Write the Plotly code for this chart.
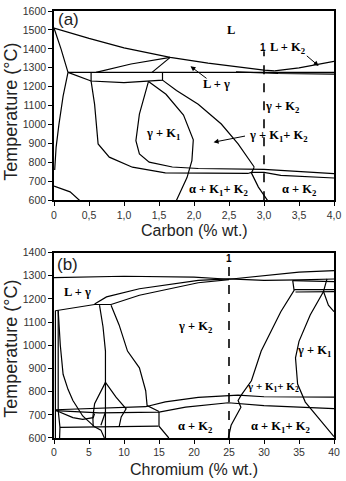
import plotly.graph_objects as go

# ---------------- Panel (a): Fe-C-Cr section, carbon axis ----------------
a_xtick_vals = [0, 0.5, 1.0, 1.5, 2.0, 2.5, 3.0, 3.5, 4.0]
a_xtick_text = ["0", "0,5", "1,0", "1,5", "2,0", "2,5", "3,0", "3,5", "4,0"]

a_liquidus_c = [0.0, 0.5, 1.0, 1.66, 2.2, 2.7, 3.0, 3.15]
a_liquidus_t = [1510, 1455, 1405, 1355, 1325, 1300, 1288, 1284]
a_lk2_c = [3.15, 3.5, 4.0]
a_lk2_t = [1284, 1300, 1334]
a_eut_c = [0.2, 4.0]
a_eut_t = [1276, 1276]
a_eut2_c = [2.6, 3.2, 4.0]
a_eut2_t = [1279, 1270, 1267]
a_sol_left_c = [0.0, 0.1, 0.2]
a_sol_left_t = [1510, 1400, 1276]
a_gam_left_c = [0.2, 0.13, 0.07, 0.03, 0.01]
a_gam_left_t = [1276, 1150, 1000, 880, 760]
a_diag_c = [0.2, 0.53]
a_diag_t = [1276, 1230]
a_lg_up_c = [0.6, 1.1, 1.66]
a_lg_up_t = [1276, 1320, 1355]
a_lg_low_c = [1.4, 1.66]
a_lg_low_t = [1276, 1355]
a_oval_c = [0.53, 0.53, 1.0, 1.55, 1.55]
a_oval_t = [1276, 1230, 1222, 1235, 1276]
a_lower_c = [0.53, 0.58, 0.63, 0.79, 1.12, 1.59, 2.77, 2.82, 3.0, 3.24, 4.0]
a_lower_t = [1230, 1107, 898, 828, 775, 745, 742, 748, 748, 732, 718]
a_upper_c = [1.35, 1.22, 1.17, 1.22, 1.36, 1.69, 2.06, 2.86, 3.0, 4.0]
a_upper_t = [1228, 1055, 915, 845, 802, 776, 768, 767, 763, 741]
a_gk1_right_c = [1.35, 1.6, 1.85, 1.99, 1.97, 1.9, 1.75]
a_gk1_right_t = [1228, 1160, 1050, 920, 810, 720, 600]
a_k1k2_c = [1.55, 1.75, 2.06, 2.39, 2.63, 2.86]
a_k1k2_t = [1235, 1180, 1107, 1003, 898, 776]
a_k2_c = [2.86, 2.82, 2.92, 3.05]
a_k2_t = [775, 745, 670, 600]
a_bl_c = [0.0, 0.23, 0.37]
a_bl_t = [675, 645, 598]
a_dash_c = [3.0, 3.0]
a_dash_t = [600, 1387]

# ---------------- Panel (b): chromium axis ----------------
b_xtick_vals = [0, 5, 10, 15, 20, 25, 30, 35, 40]

b_liq1_cr = [0, 10, 20, 25]
b_liq1_t = [1292, 1298, 1294, 1285]
b_liq2_cr = [25, 30, 35, 40]
b_liq2_t = [1285, 1302, 1316, 1322]
b_sol2_cr = [25, 30, 35, 40]
b_sol2_t = [1287, 1280, 1282, 1286]
b_sol3_cr = [34.1, 37, 40]
b_sol3_t = [1279, 1276, 1275]
b_lg_base_cr = [0.2, 5.8, 8.15]
b_lg_base_t = [1149, 1176, 1176]
b_lg_up_cr = [5.8, 7.5, 12.2, 20.6, 25]
b_lg_up_t = [1178, 1209, 1244, 1280, 1287]
b_lg_low_cr = [8.15, 12.2, 20.6, 25]
b_lg_low_t = [1176, 1216, 1270, 1283]
b_v1_cr = [0.2, 0.2]
b_v1_t = [1150, 600]
b_v2_cr = [0.6, 0.6, 0.85, 0.8]
b_v2_t = [1150, 720, 646, 600]
b_curve_cr = [0.6, 0.9, 1.3, 2.0, 2.7, 4.1, 5.8, 6.7, 7.2]
b_curve_t = [1150, 1000, 875, 810, 762, 695, 648, 634, 600]
b_v7_cr = [6.5, 7.0, 7.35, 7.35]
b_v7_t = [1173, 1080, 975, 600]
b_k1line_cr = [8.15, 9.3, 10.5, 12.2, 13.1, 13.3, 15.0]
b_k1line_t = [1173, 1088, 975, 903, 804, 740, 714]
b_dl_cr = [7.35, 6.5, 5.8, 5.55, 5.6]
b_dl_t = [840, 790, 748, 691, 650]
b_dr_cr = [7.35, 8.86, 10.3, 9.6, 9.3]
b_dr_t = [840, 776, 726, 691, 648]
b_up_long_cr = [0.2, 6.5, 13.1, 15.9, 20.6, 26.3, 30, 40]
b_up_long_t = [722, 727, 735, 756, 775, 785, 778, 776]
b_low_long_cr = [0.2, 6.5, 15, 18.8, 24.9, 30, 40]
b_low_long_t = [718, 708, 712, 733, 752, 740, 727]
b_concave_cr = [0.2, 2.7, 4.1, 5.6, 5.8]
b_concave_t = [720, 688, 680, 688, 705]
b_h648_cr = [0.85, 14.9]
b_h648_t = [646, 651]
b_v15_cr = [15, 15, 16.4]
b_v15_t = [712, 651, 600]
b_small_cr = [7.35, 6.7]
b_small_t = [712, 655]
b_k2r_cr = [24.9, 25.3, 26.7, 26.3, 26.7, 28.2, 29.6, 32.4, 34.3, 34.1]
b_k2r_t = [600, 655, 733, 762, 783, 847, 975, 1145, 1237, 1280]
b_gk1_cr = [40, 37.6, 35.9, 34.8, 34.5, 35, 36.6, 38.5, 39]
b_gk1_t = [606, 691, 755, 833, 946, 1017, 1131, 1232, 1287]
b_h1_cr = [34.3, 40]
b_h1_t = [1240, 1240]
b_h2_cr = [34.5, 40]
b_h2_t = [1230, 1232]
b_corner_cr = [38.5, 39.2, 40]
b_corner_t = [1232, 1173, 1145]
b_dash_cr = [25, 25]
b_dash_t = [600, 1360]

fig = go.Figure()

def add_line(x, y, ax, dash=None, width=1.2):
    fig.add_trace(go.Scatter(
        x=x, y=y, mode="lines", xaxis="x" if ax == 1 else "x2",
        yaxis="y" if ax == 1 else "y2",
        line=dict(color="black", width=width, dash=dash),
        showlegend=False, hoverinfo="skip"))

for cx, ty in [
    (a_liquidus_c, a_liquidus_t), (a_lk2_c, a_lk2_t), (a_eut_c, a_eut_t),
    (a_eut2_c, a_eut2_t), (a_sol_left_c, a_sol_left_t),
    (a_gam_left_c, a_gam_left_t), (a_diag_c, a_diag_t),
    (a_lg_up_c, a_lg_up_t), (a_lg_low_c, a_lg_low_t), (a_oval_c, a_oval_t),
    (a_lower_c, a_lower_t), (a_upper_c, a_upper_t),
    (a_gk1_right_c, a_gk1_right_t), (a_k1k2_c, a_k1k2_t), (a_k2_c, a_k2_t),
    (a_bl_c, a_bl_t)]:
    add_line(cx, ty, 1)
add_line(a_dash_c, a_dash_t, 1, dash="dash", width=1.6)

for cx, ty in [
    (b_liq1_cr, b_liq1_t), (b_liq2_cr, b_liq2_t), (b_sol2_cr, b_sol2_t),
    (b_sol3_cr, b_sol3_t), (b_lg_base_cr, b_lg_base_t),
    (b_lg_up_cr, b_lg_up_t), (b_lg_low_cr, b_lg_low_t), (b_v1_cr, b_v1_t),
    (b_v2_cr, b_v2_t), (b_curve_cr, b_curve_t), (b_v7_cr, b_v7_t),
    (b_k1line_cr, b_k1line_t), (b_dl_cr, b_dl_t), (b_dr_cr, b_dr_t),
    (b_up_long_cr, b_up_long_t), (b_low_long_cr, b_low_long_t),
    (b_concave_cr, b_concave_t), (b_h648_cr, b_h648_t), (b_v15_cr, b_v15_t),
    (b_small_cr, b_small_t), (b_k2r_cr, b_k2r_t), (b_gk1_cr, b_gk1_t),
    (b_h1_cr, b_h1_t), (b_h2_cr, b_h2_t), (b_corner_cr, b_corner_t)]:
    add_line(cx, ty, 2)
add_line(b_dash_cr, b_dash_t, 2, dash="dash", width=1.6)

serif = dict(family="Liberation Serif", size=12.5, color="black")
sans_tick = dict(family="Liberation Sans", size=10.5, color="#333")
title_font = dict(family="Liberation Sans", size=16, color="#222")
ytitle_font = dict(family="Liberation Sans", size=18, color="#222")

def label(text, x, y, ax, font=serif):
    fig.add_annotation(text=text, x=x, y=y, xref="x" if ax == 1 else "x2",
                       yref="y" if ax == 1 else "y2", showarrow=False, font=font)

def arrow(x0, y0, x1, y1, ax):
    r = "x" if ax == 1 else "x2"
    ry = "y" if ax == 1 else "y2"
    fig.add_annotation(x=x1, y=y1, ax=x0, ay=y0, xref=r, yref=ry, axref=r, ayref=ry,
                       text="", showarrow=True, arrowhead=2, arrowsize=1,
                       arrowwidth=1, arrowcolor="black")

K1 = "K<sub>1</sub>"
K2 = "K<sub>2</sub>"
label("(a)", 0.2, 1553, 1, dict(family="Liberation Sans", size=17, color="#222"))
label("<b>L</b>", 2.53, 1500, 1)
label("<b>L + %s</b>" % K2, 3.34, 1404, 1)
label("<b>1</b>", 2.98, 1408, 1, dict(family="Liberation Sans", size=10, color="black"))
label("<b>L + γ</b>", 2.32, 1212, 1)
label("<b>γ + %s</b>" % K2, 3.26, 1091, 1)
label("<b>γ + %s</b>" % K1, 1.55, 950, 1)
label("<b>γ + %s+ %s</b>" % (K1, K2), 3.2, 941, 1)
label("<b>α + %s+ %s</b>" % (K1, K2), 2.35, 653, 1)
label("<b>α + %s</b>" % K2, 3.5, 653, 1)
arrow(2.2, 1238, 1.95, 1308, 1)
arrow(3.59, 1370, 3.78, 1310, 1)
arrow(2.75, 941, 2.28, 907, 1)

label("(b)", 1.9, 1350, 2, dict(family="Liberation Sans", size=17, color="#222"))
label("<b>1</b>", 25, 1374, 2, dict(family="Liberation Sans", size=10, color="black"))
label("<b>L + γ</b>", 3.3, 1232, 2)
label("<b>γ + %s</b>" % K2, 20.2, 1081, 2)
label("<b>γ + %s</b>" % K1, 37.2, 975, 2)
label("<b>γ + %s+ %s</b>" % (K1, K2), 31.3, 818, 2,
      dict(family="Liberation Serif", size=11, color="black"))
label("<b>α + %s</b>" % K2, 20.2, 648, 2)
label("<b>α + %s+ %s</b>" % (K1, K2), 32.3, 648, 2)

# axis titles
fig.add_annotation(text="Carbon (% wt.)", x=0.5, y=0.487, xref="paper", yref="paper",
                   showarrow=False, font=title_font, yanchor="middle")
fig.add_annotation(text="Chromium (% wt.)", x=0.5, y=-0.074, xref="paper", yref="paper",
                   showarrow=False, font=title_font, yanchor="middle")
fig.add_annotation(text="Temperature (°C)", x=-0.152, y=0.765, xref="paper", yref="paper",
                   showarrow=False, font=ytitle_font, textangle=-90,
                   xanchor="center", yanchor="middle")
fig.add_annotation(text="Temperature (°C)", x=-0.152, y=0.21, xref="paper", yref="paper",
                   showarrow=False, font=ytitle_font, textangle=-90,
                   xanchor="center", yanchor="middle")

axis_common = dict(showline=True, mirror=True, linecolor="black", linewidth=1.6,
                   ticks="outside", ticklen=4, tickcolor="black", tickwidth=1,
                   showgrid=False, zeroline=False, tickfont=sans_tick)

fig.update_layout(
    width=346, height=481,
    margin=dict(l=54, r=9, t=5, b=43),
    paper_bgcolor="white", plot_bgcolor="white",
    xaxis=dict(domain=[0, 1], anchor="y", range=[0, 4], tickvals=a_xtick_vals,
               ticktext=a_xtick_text, **axis_common),
    yaxis=dict(domain=[0.5566, 1], anchor="x", range=[600, 1600], dtick=100,
               tick0=600, **axis_common),
    xaxis2=dict(domain=[0, 1], anchor="y2", range=[0, 40], tickvals=b_xtick_vals,
                **axis_common),
    yaxis2=dict(domain=[0, 0.4342], anchor="x2", range=[600, 1400], dtick=100,
                tick0=600, **axis_common),
)

fig.write_html("out.html", config={"displayModeBar": False},
               post_script="document.body.style.margin='0';document.body.style.overflow='hidden';")
